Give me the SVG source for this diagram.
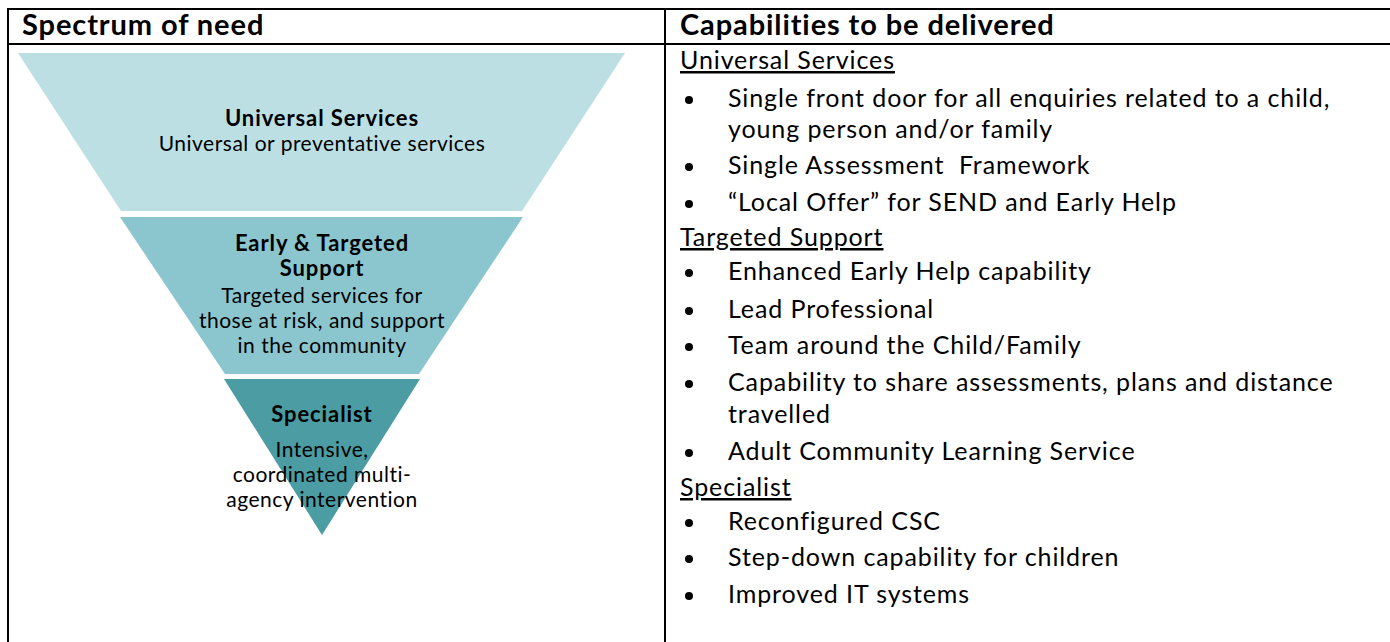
<svg xmlns="http://www.w3.org/2000/svg" width="1390" height="642" viewBox="0 0 1390 642">
  <style>
    .grid { stroke: #000; stroke-width: 2; fill: none; }
    .hdr { font-family: Lato, "Open Sans", sans-serif; font-weight: bold; font-size: 29px; letter-spacing: 0.9px; fill: #000; }
    .lvl-t { font-family: Lato, "Open Sans", sans-serif; font-weight: bold; font-size: 22px; letter-spacing: 0.9px; fill: #000; text-anchor: middle; }
    .lvl-d { font-family: Lato, "Open Sans", sans-serif; font-size: 21px; letter-spacing: 0.5px; fill: #000; text-anchor: middle; }
    .sec { font-family: Lato, "Open Sans", sans-serif; font-size: 25px; letter-spacing: 0.9px; fill: #000; text-decoration: underline; }
    .item { font-family: Lato, "Open Sans", sans-serif; font-size: 25px; letter-spacing: 0.9px; fill: #000; }
    .dot { fill: #000; }
  </style>

  <rect width="1390" height="642" fill="#fff"/>

  <!-- table frame -->
  <g id="table">
    <line class="grid" x1="7" y1="9" x2="1390" y2="9"/>
    <line class="grid" x1="7" y1="44" x2="1390" y2="44"/>
    <line class="grid" x1="8" y1="8" x2="8" y2="642"/>
    <line class="grid" x1="665" y1="8" x2="665" y2="642"/>
    <text class="hdr" x="22" y="35">Spectrum of need</text>
    <text class="hdr" x="680" y="35">Capabilities to be delivered</text>
  </g>

  <!-- funnel levels -->
  <g id="universal">
    <polygon points="18,53 625,53 522,211 121,211" fill="#bcdfe3"/>
    <text class="lvl-t" x="322" y="126">Universal Services</text>
    <text class="lvl-d" x="322" y="151">Universal or preventative services</text>
  </g>
  <g id="targeted">
    <polygon points="120,217 523,217 419,374 225,374" fill="#8bc6ce"/>
    <text class="lvl-t" x="322" y="251">Early &amp; Targeted</text>
    <text class="lvl-t" x="322" y="276">Support</text>
    <text class="lvl-d" x="322" y="303">Targeted services for</text>
    <text class="lvl-d" x="322" y="328">those at risk, and support</text>
    <text class="lvl-d" x="322" y="353">in the community</text>
  </g>
  <g id="specialist">
    <polygon points="224,379 420,379 322,535" fill="#4b9ca3"/>
    <text class="lvl-t" x="322" y="422">Specialist</text>
    <text class="lvl-d" x="322" y="457">Intensive,</text>
    <text class="lvl-d" x="322" y="482">coordinated multi-</text>
    <text class="lvl-d" x="322" y="507">agency intervention</text>
  </g>

  <!-- capability list -->
  <g id="capabilities">
    <text class="sec" x="680" y="69">Universal Services</text>
    <circle class="dot" cx="689" cy="100" r="4"/>
    <text class="item" x="728" y="107">Single front door for all enquiries related to a child,</text>
    <text class="item" x="728" y="138">young person and/or family</text>
    <circle class="dot" cx="689" cy="167" r="4"/>
    <text class="item" x="728" y="174" xml:space="preserve">Single Assessment  Framework</text>
    <circle class="dot" cx="689" cy="204" r="4"/>
    <text class="item" x="728" y="211">“Local Offer” for SEND and Early Help</text>

    <text class="sec" x="680" y="246">Targeted Support</text>
    <circle class="dot" cx="689" cy="273" r="4"/>
    <text class="item" x="728" y="280">Enhanced Early Help capability</text>
    <circle class="dot" cx="689" cy="311" r="4"/>
    <text class="item" x="728" y="318">Lead Professional</text>
    <circle class="dot" cx="689" cy="347" r="4"/>
    <text class="item" x="728" y="354">Team around the Child/Family</text>
    <circle class="dot" cx="689" cy="384" r="4"/>
    <text class="item" x="728" y="391">Capability to share assessments, plans and distance</text>
    <text class="item" x="728" y="423">travelled</text>
    <circle class="dot" cx="689" cy="453" r="4"/>
    <text class="item" x="728" y="460">Adult Community Learning Service</text>

    <text class="sec" x="680" y="496">Specialist</text>
    <circle class="dot" cx="689" cy="523" r="4"/>
    <text class="item" x="728" y="530">Reconfigured CSC</text>
    <circle class="dot" cx="689" cy="559" r="4"/>
    <text class="item" x="728" y="566">Step-down capability for children</text>
    <circle class="dot" cx="689" cy="596" r="4"/>
    <text class="item" x="728" y="603">Improved IT systems</text>
  </g>
</svg>
